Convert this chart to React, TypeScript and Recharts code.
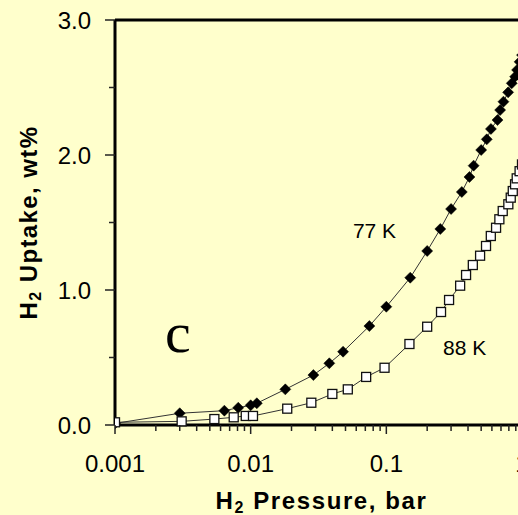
import React from "react";
import {
  LineChart,
  Line,
  XAxis,
  YAxis,
  ReferenceLine,
  ReferenceDot,
  Label,
} from "recharts";

// H2 uptake isotherms
const pressure77 = [
  0.001, 0.003, 0.0064, 0.0081, 0.01, 0.0111, 0.018, 0.029, 0.038, 0.048,
  0.075, 0.1, 0.15, 0.2, 0.25, 0.3, 0.36, 0.41, 0.44, 0.5, 0.55, 0.59, 0.66,
  0.69, 0.73, 0.79, 0.84, 0.89, 0.92, 0.96, 1.0,
];
const uptake77 = [
  0.012, 0.087, 0.106, 0.128, 0.146, 0.161, 0.264, 0.37, 0.457, 0.543, 0.733,
  0.876, 1.091, 1.289, 1.452, 1.6, 1.726, 1.837, 1.921, 2.037, 2.116, 2.193,
  2.259, 2.333, 2.395, 2.464, 2.531, 2.58, 2.63, 2.69, 2.74,
];

const pressure88 = [
  0.001, 0.0031, 0.0054, 0.0075, 0.0092, 0.0104, 0.0186, 0.028, 0.04, 0.052,
  0.071, 0.097, 0.148, 0.2, 0.253, 0.29, 0.35, 0.387, 0.434, 0.491, 0.543,
  0.589, 0.644, 0.681, 0.721, 0.793, 0.826, 0.855, 0.889, 0.914, 0.96, 1.0,
];
const uptake88 = [
  0.02, 0.027, 0.044, 0.057, 0.067, 0.067, 0.121, 0.165, 0.23, 0.264, 0.356,
  0.424, 0.6, 0.728, 0.837, 0.926, 1.032, 1.111, 1.185, 1.254, 1.326, 1.4,
  1.461, 1.524, 1.585, 1.635, 1.684, 1.733, 1.783, 1.827, 1.88, 1.93,
];

const xMajorTicks = [0.001, 0.01, 0.1, 1];
const xTickLabels = ["0.001", "0.01", "0.1", "1"];
const yTicks = [0, 0.5, 1, 1.5, 2, 2.5, 3];

const data77 = pressure77.map((p, i) => ({ p, v: uptake77[i] }));
const data88 = pressure88.map((p, i) => ({ p, v: uptake88[i] }));

// log axis: majors plus 2..9 minors in each decade
const xTicks: number[] = [];
xMajorTicks.forEach((m, i) => {
  xTicks.push(m);
  if (i < xMajorTicks.length - 1) {
    for (let k = 2; k <= 9; k++) xTicks.push(+(m * k).toPrecision(3));
  }
});

const FONT = "'Liberation Sans', Arial, sans-serif";
const BG = "#FFFFCC";

const XTick = (props: any) => {
  const { x, y, payload } = props;
  const idx = xMajorTicks.findIndex(
    (m) => Math.abs(m - payload.value) / m < 1e-6
  );
  const major = idx >= 0;
  return (
    <g>
      <line x1={x} x2={x} y1={y} y2={y + (major ? 9 : 6)} stroke="#222" strokeWidth={1.5} />
      {major && (
        <text x={x} y={y + 47} textAnchor="middle" fontSize={24} fontFamily={FONT} fill="#000">
          {xTickLabels[idx]}
        </text>
      )}
    </g>
  );
};

const YTick = (props: any) => {
  const { x, y, payload } = props;
  const major = Number.isInteger(payload.value);
  return (
    <g>
      <line x1={x} x2={x - (major ? 10 : 6)} y1={y} y2={y} stroke="#222" strokeWidth={1.5} />
      {major && (
        <text x={x - 24} y={y + 8.6} textAnchor="end" fontSize={24} fontFamily={FONT} fill="#000">
          {payload.value.toFixed(1)}
        </text>
      )}
    </g>
  );
};

const XTitle = (props: any) => {
  const vb = props.viewBox;
  return (
    <text
      x={vb.x + vb.width / 2 + 3}
      y={vb.y + 84}
      textAnchor="middle"
      fontSize={24}
      fontWeight="bold"
      fontFamily={FONT}
      letterSpacing={1.6}
      fill="#000"
    >
      <tspan>H</tspan>
      <tspan fontSize={16} dy={4}>2</tspan>
      <tspan dy={-4}> Pressure, bar</tspan>
    </text>
  );
};

const YTitle = (props: any) => {
  const vb = props.viewBox;
  const cx = vb.x + 37;
  const cy = vb.y + vb.height / 2;
  return (
    <text
      x={cx}
      y={cy}
      transform={`rotate(-90, ${cx}, ${cy})`}
      textAnchor="middle"
      fontSize={24}
      fontWeight="bold"
      fontFamily={FONT}
      letterSpacing={1.4}
      fill="#000"
    >
      <tspan>H</tspan>
      <tspan fontSize={16} dy={4}>2</tspan>
      <tspan dy={-4}> Uptake, wt%</tspan>
    </text>
  );
};

const Diamond = (props: any) => {
  const { cx, cy, index } = props;
  if (cx == null || cy == null) return <g key={index} />;
  const r = 5.5;
  return (
    <path
      key={index}
      d={`M${cx},${cy - r}L${cx + r},${cy}L${cx},${cy + r}L${cx - r},${cy}Z`}
      fill="#000"
      stroke="#000"
      strokeWidth={0.5}
    />
  );
};

const Square = (props: any) => {
  const { cx, cy, index } = props;
  if (cx == null || cy == null) return <g key={index} />;
  return (
    <rect key={index} x={cx - 4.5} y={cy - 4.5} width={9} height={9} fill="#fff" stroke="#111" strokeWidth={1.3} />
  );
};

const textAt = (txt: string, size: number, family: string) => (p: any) => (
  <text x={p.cx} y={p.cy} fontSize={size} fontFamily={family} fill="#000">
    {txt}
  </text>
);

export default function App() {
  return (
    <div
      style={{
        position: "fixed",
        top: 0,
        left: 0,
        width: 518,
        height: 515,
        overflow: "hidden",
        background: BG,
      }}
    >
      <LineChart width={530} height={515} margin={{ top: 20, right: 8, bottom: 0, left: 0 }}>
        <XAxis
          dataKey="p"
          type="number"
          scale="log"
          domain={[0.001, 1]}
          ticks={xTicks}
          interval={0}
          tickSize={0}
          tickMargin={0}
          tick={<XTick />}
          height={90}
          axisLine={{ stroke: "#000", strokeWidth: 3 }}
          allowDataOverflow
        >
          <Label content={XTitle} />
        </XAxis>
        <YAxis
          type="number"
          domain={[0, 3]}
          ticks={yTicks}
          interval={0}
          tickSize={0}
          tickMargin={0}
          tick={<YTick />}
          width={115}
          axisLine={{ stroke: "#000", strokeWidth: 3 }}
        >
          <Label content={YTitle} />
        </YAxis>
        <ReferenceLine y={3} stroke="#000" strokeWidth={3} />
        <Line
          data={data77}
          dataKey="v"
          type="linear"
          stroke="#333"
          strokeWidth={1}
          dot={Diamond}
          isAnimationActive={false}
        />
        <Line
          data={data88}
          dataKey="v"
          type="linear"
          stroke="#333"
          strokeWidth={1}
          dot={Square}
          isAnimationActive={false}
        />
        <ReferenceDot x={0.0567} y={1.385} r={0} shape={textAt("77 K", 21, FONT)} />
        <ReferenceDot x={0.262} y={0.519} r={0} shape={textAt("88 K", 21, FONT)} />
        <ReferenceDot
          x={0.00234}
          y={0.541}
          r={0}
          shape={textAt("c", 58, "'Liberation Serif', 'Times New Roman', serif")}
        />
      </LineChart>
    </div>
  );
}
